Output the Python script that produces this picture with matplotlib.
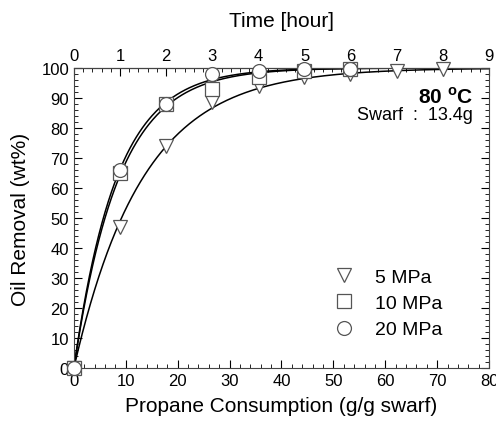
import numpy as np
import matplotlib
matplotlib.use('Agg')
import matplotlib.pyplot as plt
from matplotlib.ticker import MultipleLocator

plt.rcParams['font.family'] = ['Liberation Sans', 'DejaVu Sans']

# propane consumption (g/g swarf) at each sampling hour
cons_5 = [0, 8.9, 17.8, 26.7, 35.6, 44.4, 53.3, 62.2, 71.1]
oil_5 = [0, 47, 74, 88.5, 94, 97, 98, 99, 99.5]
cons_10 = [0, 8.9, 17.8, 26.7, 35.6, 44.4, 53.3]
oil_10 = [0, 65, 88, 93, 97, 99, 99.5]
cons_20 = [0, 8.9, 17.8, 26.7, 35.6, 44.4, 53.3]
oil_20 = [0, 66, 88, 98, 99, 99.5, 99.5]

labels = ['5 MPa', '10 MPa', '20 MPa']
markers = ['v', 's', 'o']
hours_max = 9  # top axis spans 0..9 h over 0..80 g/g


def fit_k(x, y):
    # first-order fit y = 100(1-exp(-kx)), simple grid search
    x = np.asarray(x); y = np.asarray(y)
    ks = np.linspace(0.01, 0.3, 3000)
    err = [np.sum((100 * (1 - np.exp(-k * x)) - y) ** 2) for k in ks]
    return ks[int(np.argmin(err))]


fig = plt.figure(figsize=(4.96, 4.31), dpi=100)
ax = fig.add_axes([0.149, 0.144, 0.837, 0.696])

xx = np.linspace(0, 80, 400)
series = [(cons_5, oil_5), (cons_10, oil_10), (cons_20, oil_20)]
for (x, y), lab, m in zip(series, labels, markers):
    k = fit_k(x, y)
    ax.plot(xx, 100 * (1 - np.exp(-k * xx)), color='black', lw=1.1, zorder=2)
for (x, y), lab, m in zip(series, labels, markers):
    ax.plot(x, y, ls='none', marker=m, ms=10, mfc='white', mec='#555555',
            mew=0.9, label=lab, zorder=3, clip_on=False)

ax.set_xlim(0, 80)
ax.set_ylim(0, 100)
ax.xaxis.set_major_locator(MultipleLocator(10))
ax.xaxis.set_minor_locator(MultipleLocator(2))
ax.yaxis.set_major_locator(MultipleLocator(10))
ax.yaxis.set_minor_locator(MultipleLocator(2))
ax.tick_params(which='both', direction='in', right=True, labelsize=12)
ax.tick_params(which='major', length=6, width=0.8)
ax.tick_params(which='minor', length=3, width=0.6)
for s in ax.spines.values():
    s.set_linewidth(0.8)
    s.set_color('#444444')

top = ax.secondary_xaxis('top', functions=(lambda c: c * hours_max / 80,
                                             lambda h: h * 80 / hours_max))
top.xaxis.set_major_locator(MultipleLocator(1))
top.xaxis.set_minor_locator(MultipleLocator(0.2))
top.tick_params(which='both', direction='in', labelsize=12)
top.tick_params(which='major', length=6, width=0.8)
top.tick_params(which='minor', length=3, width=0.6)
top.set_xlabel('Time [hour]', fontsize=15, labelpad=16)

ax.set_xlabel('Propane Consumption (g/g swarf)', fontsize=15, labelpad=6)
ax.set_ylabel('Oil Removal (wt%)', fontsize=15, labelpad=8)

ax.text(0.961, 0.905, '80 $^{\\mathregular{o}}$C', transform=ax.transAxes,
        ha='right', va='center', fontsize=15, fontweight='bold')
ax.text(0.961, 0.845, 'Swarf  :  13.4g', transform=ax.transAxes,
        ha='right', va='center', fontsize=13)

ax.legend(loc='lower right', bbox_to_anchor=(0.93, 0.04), frameon=False,
          fontsize=14, handletextpad=0.6, labelspacing=0.45, borderaxespad=0.5)

fig.savefig('out.png', dpi=100)
